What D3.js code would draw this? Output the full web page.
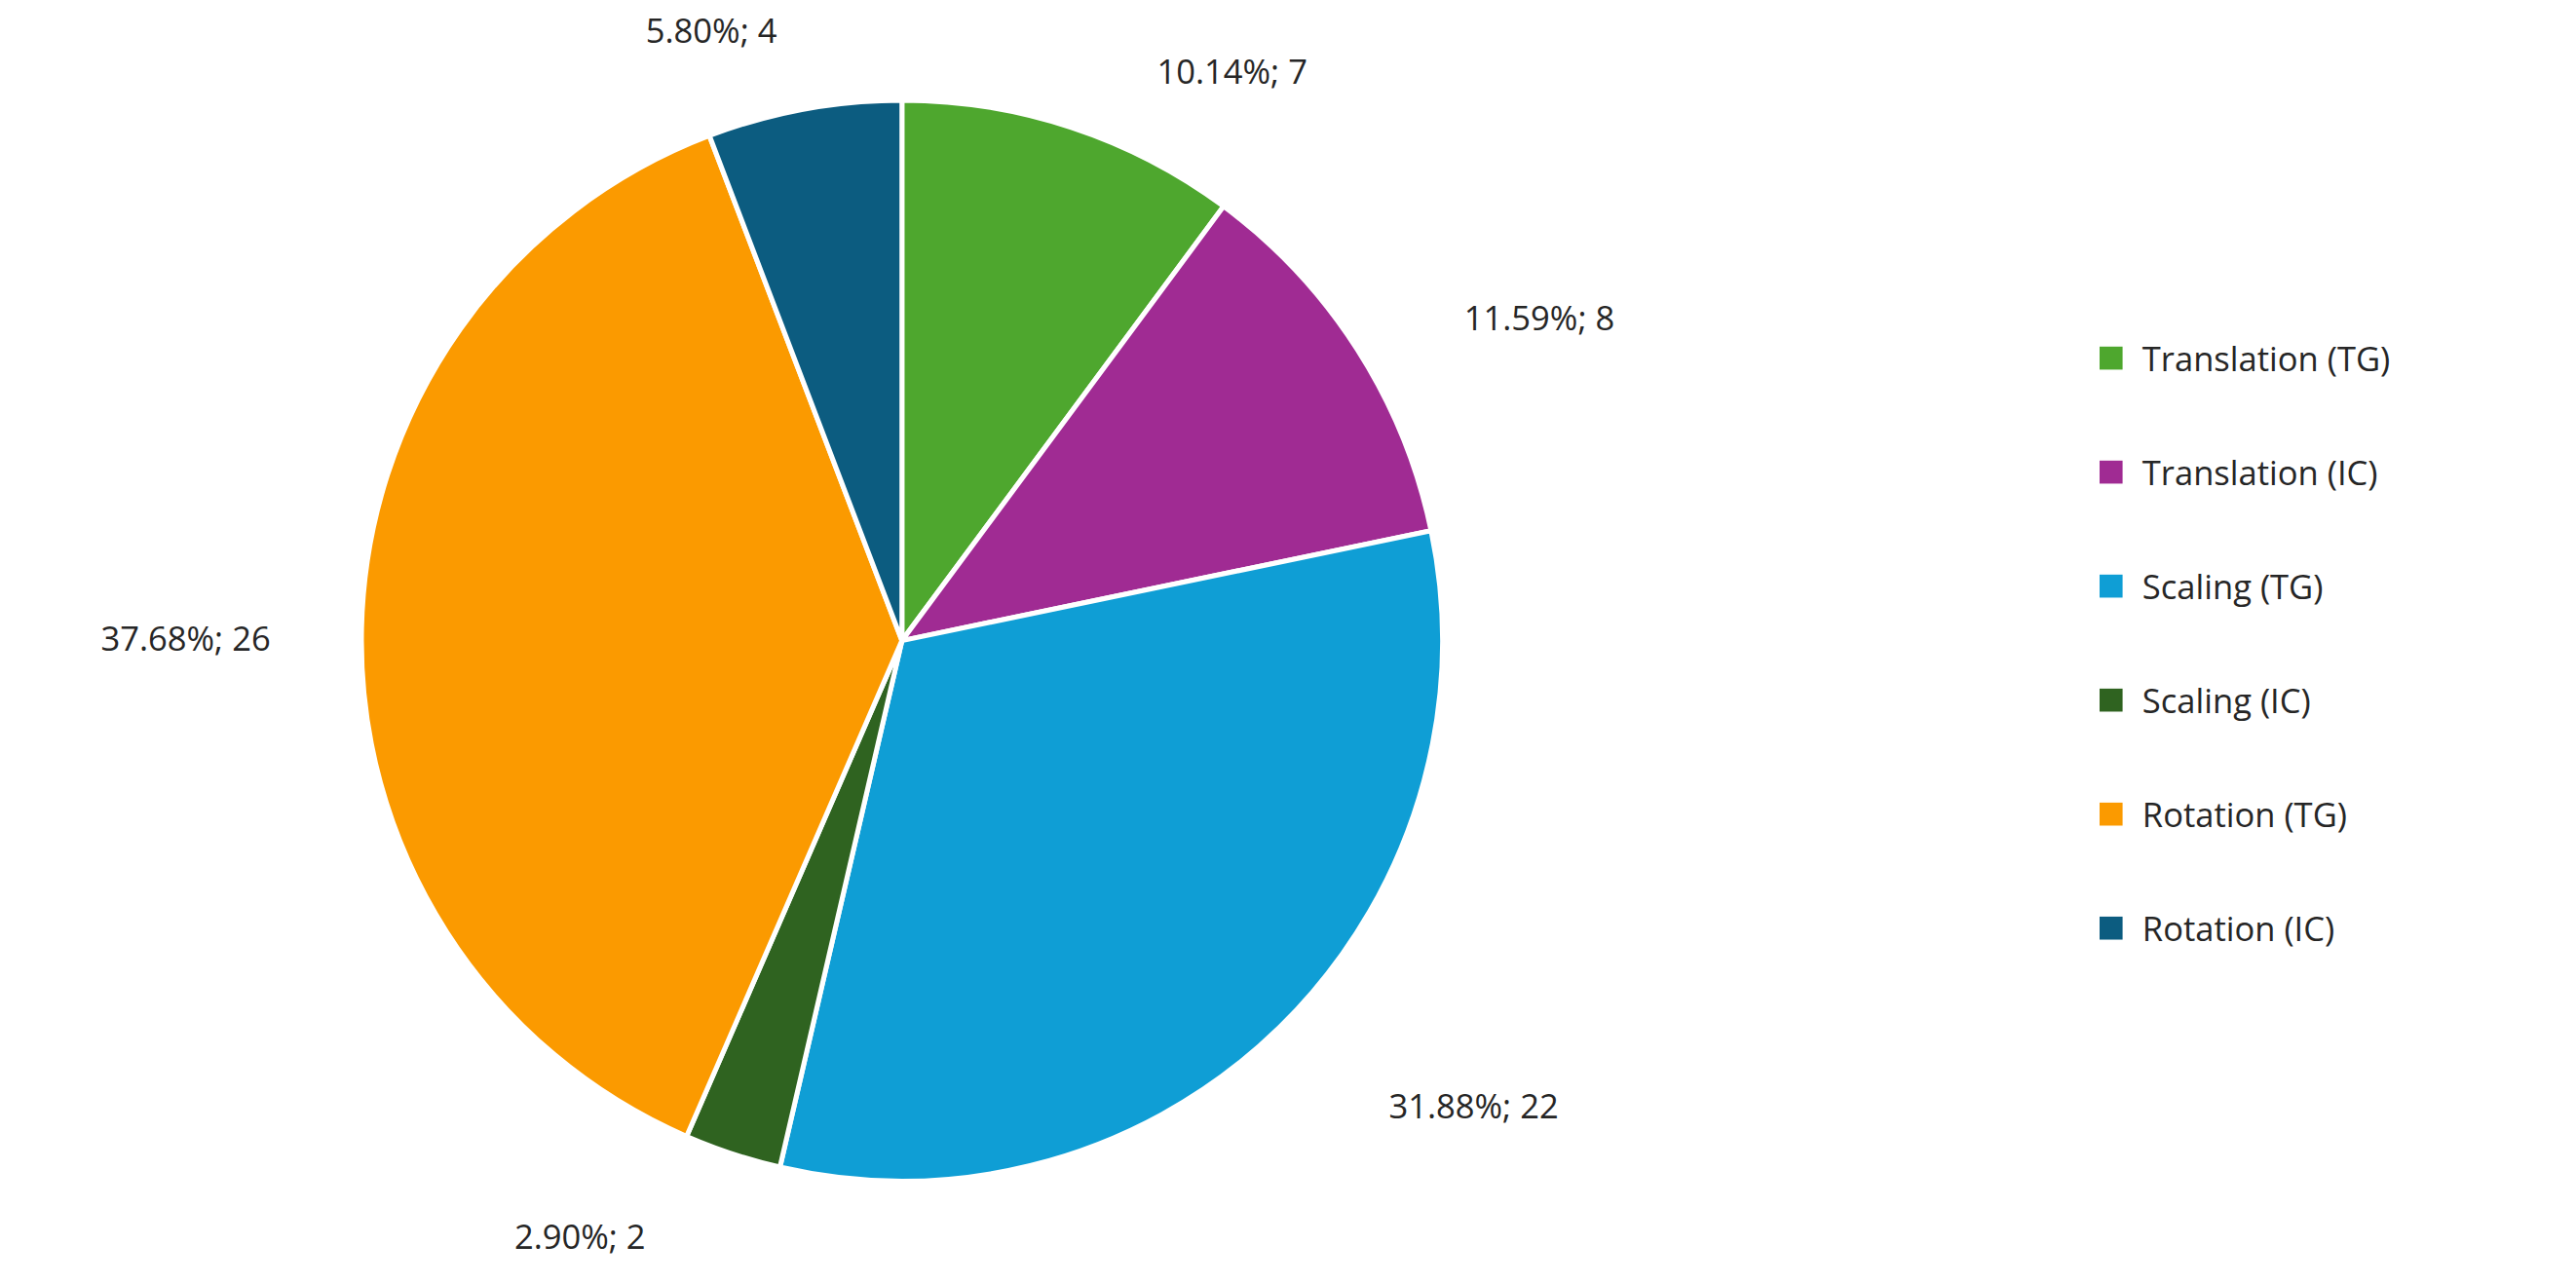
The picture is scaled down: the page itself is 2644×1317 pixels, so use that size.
<!DOCTYPE html>
<html><head><meta charset="utf-8">
<script src="https://cdn.jsdelivr.net/npm/d3@7"></script>
<style>body{margin:0;background:#fff}text{font-family:"Open Sans","Noto Sans",sans-serif;fill:#262626}</style>
</head><body>
<svg id="c" width="2644" height="1317"></svg>
<script>
const categories = ["Translation (TG)","Translation (IC)","Scaling (TG)","Scaling (IC)","Rotation (TG)","Rotation (IC)"];
const counts = [7, 8, 22, 2, 26, 4];
const colors = ["#4ea72e","#a02b93","#0f9ed5","#2f6320","#fb9a00","#0c5c80"];
// label anchor points (layout only, in 1568-wide design units)
const labelXY = [[750,43],[937,193],[897,673],[353,752],[113,388],[433,18]];

const S = 2644/1568;
const svg = d3.select("#c");
const root = svg.append("g").attr("transform",`scale(${S})`);
const total = d3.sum(counts);
const cx = 549, cy = 390, R = 329;
const pie = d3.pie().sort(null).value(d=>d);
const arc = d3.arc().innerRadius(0).outerRadius(R);
const g = root.append("g").attr("transform",`translate(${cx},${cy})`);
g.selectAll("path").data(pie(counts)).join("path")
 .attr("d",arc).attr("fill",(d,i)=>colors[i]).attr("stroke","#fff").attr("stroke-width",3).attr("stroke-linejoin","round");
root.selectAll("text.lbl").data(counts).join("text").attr("class","lbl")
 .attr("x",(d,i)=>labelXY[i][0]).attr("y",(d,i)=>labelXY[i][1])
 .attr("text-anchor","middle").attr("dominant-baseline","central").attr("font-size",20.5)
 .text(d=>(d/total*100).toFixed(2)+"%; "+d);
const leg = root.append("g");
const ly = d3.scalePoint().domain(categories).range([218,565]);
categories.forEach((c,i)=>{
  leg.append("rect").attr("x",1278).attr("y",ly(c)-7).attr("width",14).attr("height",14).attr("fill",colors[i]);
  leg.append("text").attr("x",1304).attr("y",ly(c)).attr("dominant-baseline","central").attr("font-size",20.5).text(c);
});
</script></body></html>
